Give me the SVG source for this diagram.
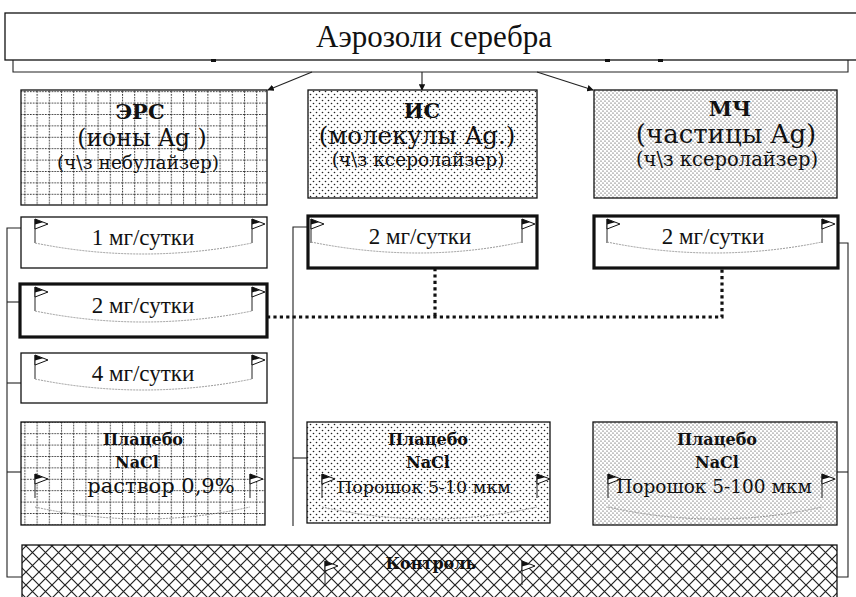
<svg xmlns="http://www.w3.org/2000/svg" xmlns:xlink="http://www.w3.org/1999/xlink" width="856" height="597" viewBox="0 0 856 597">
<style>
.box{stroke:#111;stroke-width:1.3;}
.thick{fill:#fff;stroke:#111;stroke-width:3.2;}
.thin{fill:#fff;stroke:#111;stroke-width:1.3;}
.ln{fill:none;stroke:#222;stroke-width:1.1;}
.dot{fill:none;stroke:#111;stroke-width:3.2;stroke-dasharray:3.2 3.2;}
.curve{fill:none;stroke:#999;stroke-width:1;stroke-dasharray:2 1;}
.pole{stroke:#222;stroke-width:1;}
.t{font-family:"DejaVu Serif","Liberation Serif",serif;fill:#111;text-anchor:middle;}
.s{font-family:"Liberation Serif","DejaVu Serif",serif;fill:#111;text-anchor:middle;}
.b{font-weight:bold;}
</style>
<defs>
<pattern id="grid" width="12.2" height="11.4" patternUnits="userSpaceOnUse">
<rect width="12.2" height="11.4" fill="#fff"/>
<line x1="0.5" y1="0" x2="0.5" y2="11.4" stroke="#333" stroke-width="1" stroke-dasharray="1.6 1.2"/>
<line x1="0" y1="0.5" x2="12.2" y2="0.5" stroke="#333" stroke-width="1" stroke-dasharray="1.6 1.2"/>
</pattern>
<pattern id="dots" width="6" height="6" patternUnits="userSpaceOnUse">
<rect width="6" height="6" fill="#fff"/>
<circle cx="1.5" cy="1.5" r="0.8" fill="#222"/>
<circle cx="4.5" cy="4.5" r="0.8" fill="#222"/>
</pattern>
<pattern id="dense" width="4" height="4" patternUnits="userSpaceOnUse">
<rect width="4" height="4" fill="#fff"/>
<circle cx="1" cy="1" r="0.6" fill="#222"/>
<circle cx="3" cy="3" r="0.6" fill="#222"/>
</pattern>
<pattern id="hatch" width="13" height="13" patternUnits="userSpaceOnUse">
<rect width="13" height="13" fill="#fff"/>
<path d="M0,0 L13,13 M13,0 L0,13" stroke="#222" stroke-width="1.2"/>
</pattern>
<g id="flag">
<line class="pole" x1="0" y1="0" x2="0" y2="24"/>
<polygon points="0,0 13,5 0,10" fill="#fff" stroke="#111" stroke-width="1"/>
<polygon points="0,0 8,3.2 0,5.5" fill="#111"/>
</g>
<marker id="arr" viewBox="0 0 8 8" refX="7" refY="4" markerWidth="6" markerHeight="6" orient="auto">
<path d="M0,0 L8,4 L0,8 z" fill="#111"/>
</marker>
</defs>

<rect width="856" height="597" fill="#fff"/>

<g id="title">
<rect class="thin" x="5" y="13" width="860" height="47"/>
<text class="s" x="434" y="47" font-size="31">Аэрозоли серебра</text>
<rect x="211" y="59" width="5" height="3" fill="#111"/>
<rect x="605" y="59" width="5" height="3" fill="#111"/>
<rect x="658" y="59" width="5" height="3" fill="#111"/>
</g>

<g id="connectors">
<path class="ln" d="M13,60 V72 H848 V60"/>
<line class="ln" x1="312" y1="72" x2="268" y2="90" marker-end="url(#arr)"/>
<line class="ln" x1="422" y1="72" x2="422" y2="90" marker-end="url(#arr)"/>
<line class="ln" x1="537" y1="72" x2="593" y2="90" marker-end="url(#arr)"/>
<path class="ln" d="M21,228 H7 V577 H22"/>
<path class="ln" d="M7,302 H20"/>
<path class="ln" d="M7,383 H21"/>
<path class="ln" d="M7,472 H21"/>
<path class="ln" d="M307,227 H293 V526"/>
<path class="ln" d="M293,458 H307"/>
<path class="ln" d="M838,243 H848 V577 H837"/>
<path class="ln" d="M837,472 H848"/>
<path class="dot" d="M267,317 H722 V268"/>
<path class="dot" d="M435,268 V317"/>
</g>

<g id="ers">
<rect class="box" x="21" y="90" width="246" height="115" fill="url(#grid)"/>
<text class="t b" x="140" y="119" font-size="21">ЭРС</text>
<text class="t" x="142" y="146" font-size="23.5">(ионы Ag )</text>
<text class="t" x="138" y="169" font-size="18.5">(ч\з небулайзер)</text>
</g>

<g id="is">
<rect class="box" x="308" y="90" width="229" height="108" fill="url(#dots)"/>
<text class="t b" x="422" y="118" font-size="21">ИС</text>
<text class="t" x="417" y="144" font-size="24.5">(молекулы Ag.)</text>
<text class="t" x="418" y="166" font-size="18.5">(ч\з ксеролайзер)</text>
</g>

<g id="mch">
<rect class="box" x="594" y="90" width="243" height="108" fill="url(#dense)"/>
<text class="t b" x="730" y="116" font-size="21">МЧ</text>
<text class="t" x="726" y="143" font-size="26">(частицы Ag)</text>
<text class="t" x="727" y="166" font-size="19.5">(ч\з ксеролайзер)</text>
</g>

<g id="ers-1mg">
<rect class="thin" x="21" y="217" width="246" height="51"/>
<use xlink:href="#flag" x="35" y="219"/>
<use xlink:href="#flag" x="252" y="219"/>
<path class="curve" d="M35,243 Q143,265 252,243"/>
<text class="s" x="143" y="245" font-size="23">1 мг/сутки</text>
</g>

<g id="ers-2mg">
<rect class="thick" x="20" y="284" width="247" height="53"/>
<use xlink:href="#flag" x="35" y="287"/>
<use xlink:href="#flag" x="252" y="287"/>
<path class="curve" d="M35,311 Q143,333 252,311"/>
<text class="s" x="143" y="313" font-size="23">2 мг/сутки</text>
</g>

<g id="ers-4mg">
<rect class="thin" x="21" y="353" width="246" height="50"/>
<use xlink:href="#flag" x="35" y="355"/>
<use xlink:href="#flag" x="252" y="355"/>
<path class="curve" d="M35,379 Q143,401 252,379"/>
<text class="s" x="143" y="381" font-size="23">4 мг/сутки</text>
</g>

<g id="is-2mg">
<rect class="thick" x="308" y="216" width="229" height="52"/>
<use xlink:href="#flag" x="311" y="219"/>
<use xlink:href="#flag" x="522" y="219"/>
<path class="curve" d="M311,242 Q420,264 522,242"/>
<text class="s" x="420" y="244" font-size="23">2 мг/сутки</text>
</g>

<g id="mch-2mg">
<rect class="thick" x="594" y="216" width="244" height="52"/>
<use xlink:href="#flag" x="607" y="219"/>
<use xlink:href="#flag" x="822" y="219"/>
<path class="curve" d="M607,242 Q714,264 822,242"/>
<text class="s" x="713" y="244" font-size="23">2 мг/сутки</text>
</g>

<g id="ers-placebo">
<rect class="box" x="21" y="422" width="244" height="103" fill="url(#grid)"/>
<use xlink:href="#flag" x="35" y="474"/>
<use xlink:href="#flag" x="250" y="474"/>
<path class="curve" d="M35,507 Q143,531 250,507"/>
<text class="t b" x="143" y="445" font-size="16">Плацебо</text>
<text class="t b" x="137" y="468" font-size="16">NaCl</text>
<text class="t" x="161" y="493" font-size="21">раствор 0,9%</text>
</g>

<g id="is-placebo">
<rect class="box" x="307" y="422" width="243" height="101" fill="url(#dots)"/>
<use xlink:href="#flag" x="322" y="474"/>
<use xlink:href="#flag" x="537" y="474"/>
<path class="curve" d="M322,507 Q430,531 537,507"/>
<text class="t b" x="428" y="445" font-size="16">Плацебо</text>
<text class="t b" x="428" y="468" font-size="16">NaCl</text>
<text class="t" x="424" y="493" font-size="17.5">Порошок 5-10 мкм</text>
</g>

<g id="mch-placebo">
<rect class="box" x="593" y="422" width="244" height="103" fill="url(#dense)"/>
<use xlink:href="#flag" x="608" y="474"/>
<use xlink:href="#flag" x="822" y="474"/>
<path class="curve" d="M608,507 Q715,531 822,507"/>
<text class="t b" x="717" y="445" font-size="16">Плацебо</text>
<text class="t b" x="717" y="468" font-size="16">NaCl</text>
<text class="t" x="714" y="493" font-size="18.5">Порошок 5-100 мкм</text>
</g>

<g id="control">
<rect class="box" x="22" y="545" width="815" height="60" fill="url(#hatch)"/>
<use xlink:href="#flag" x="325" y="561"/>
<use xlink:href="#flag" x="522" y="561"/>
<text class="t b" x="431" y="569" font-size="16">Контроль</text>
</g>
</svg>
